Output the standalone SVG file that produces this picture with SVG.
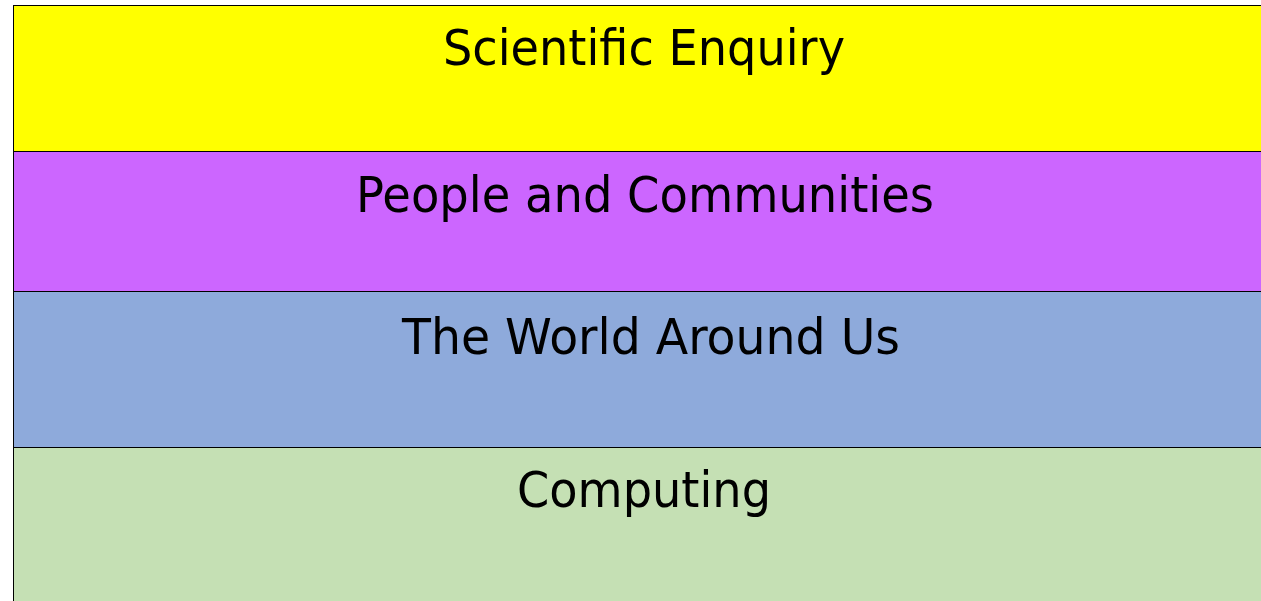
<svg xmlns="http://www.w3.org/2000/svg" width="1261" height="601" viewBox="0 0 1261 601">
<style>
.band{stroke:#000;stroke-width:1}
.lbl{font-family:"DejaVu Sans","Liberation Sans",sans-serif;font-size:50px;fill:#000;text-anchor:middle}
</style>
<rect width="1261" height="601" fill="#fff"/>
<g id="scientific-enquiry">
<rect class="band" x="13.5" y="5.5" width="1260" height="146" fill="#FFFF00"/>
<text class="lbl" x="644" y="65" textLength="402" lengthAdjust="spacingAndGlyphs">Scientific Enquiry</text>
</g>
<g id="people-and-communities">
<rect class="band" x="13.5" y="151.5" width="1260" height="140" fill="#CC66FF"/>
<text class="lbl" x="645" y="212" textLength="578" lengthAdjust="spacingAndGlyphs">People and Communities</text>
</g>
<g id="the-world-around-us">
<rect class="band" x="13.5" y="291.5" width="1260" height="156" fill="#8EAADB"/>
<text class="lbl" x="651" y="354" textLength="498" lengthAdjust="spacingAndGlyphs">The World Around Us</text>
</g>
<g id="computing">
<rect class="band" x="13.5" y="447.5" width="1260" height="170" fill="#C5E0B4"/>
<text class="lbl" x="644" y="507" textLength="254" lengthAdjust="spacingAndGlyphs">Computing</text>
</g>
<g id="connectors"/>
</svg>
